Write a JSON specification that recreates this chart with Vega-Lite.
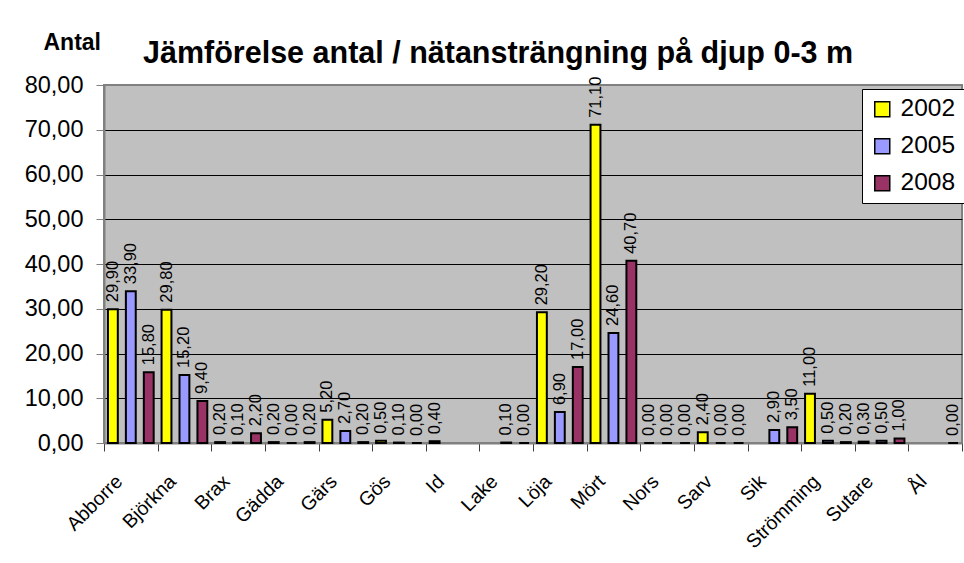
{
  "$schema": "https://vega.github.io/schema/vega-lite/v6.json",
  "width": 858,
  "height": 358,
  "autosize": {"type": "none"},
  "padding": {"left": 104, "top": 85, "right": 2, "bottom": 120},
  "background": "white",
  "title": {
    "text": "Jämförelse antal / nätansträngning på djup 0-3 m",
    "anchor": "start",
    "frame": "group",
    "dx": 39,
    "offset": -62,
    "baseline": "alphabetic",
    "fontSize": 30.5,
    "fontWeight": "bold",
    "font": "Liberation Sans",
    "color": "black"
  },
  "data": {
    "values": [
      {"art": "Abborre", "ar": "2002", "antal": 29.9},
      {"art": "Abborre", "ar": "2005", "antal": 33.9},
      {"art": "Abborre", "ar": "2008", "antal": 15.8},
      {"art": "Björkna", "ar": "2002", "antal": 29.8},
      {"art": "Björkna", "ar": "2005", "antal": 15.2},
      {"art": "Björkna", "ar": "2008", "antal": 9.4},
      {"art": "Brax", "ar": "2002", "antal": 0.2},
      {"art": "Brax", "ar": "2005", "antal": 0.1},
      {"art": "Brax", "ar": "2008", "antal": 2.2},
      {"art": "Gädda", "ar": "2002", "antal": 0.2},
      {"art": "Gädda", "ar": "2005", "antal": 0.0},
      {"art": "Gädda", "ar": "2008", "antal": 0.2},
      {"art": "Gärs", "ar": "2002", "antal": 5.2},
      {"art": "Gärs", "ar": "2005", "antal": 2.7},
      {"art": "Gärs", "ar": "2008", "antal": 0.2},
      {"art": "Gös", "ar": "2002", "antal": 0.5},
      {"art": "Gös", "ar": "2005", "antal": 0.1},
      {"art": "Gös", "ar": "2008", "antal": 0.0},
      {"art": "Id", "ar": "2002", "antal": 0.4},
      {"art": "Lake", "ar": "2005", "antal": 0.1},
      {"art": "Lake", "ar": "2008", "antal": 0.0},
      {"art": "Löja", "ar": "2002", "antal": 29.2},
      {"art": "Löja", "ar": "2005", "antal": 6.9},
      {"art": "Löja", "ar": "2008", "antal": 17.0},
      {"art": "Mört", "ar": "2002", "antal": 71.1},
      {"art": "Mört", "ar": "2005", "antal": 24.6},
      {"art": "Mört", "ar": "2008", "antal": 40.7},
      {"art": "Nors", "ar": "2002", "antal": 0.0},
      {"art": "Nors", "ar": "2005", "antal": 0.0},
      {"art": "Nors", "ar": "2008", "antal": 0.0},
      {"art": "Sarv", "ar": "2002", "antal": 2.4},
      {"art": "Sarv", "ar": "2005", "antal": 0.0},
      {"art": "Sarv", "ar": "2008", "antal": 0.0},
      {"art": "Sik", "ar": "2005", "antal": 2.9},
      {"art": "Sik", "ar": "2008", "antal": 3.5},
      {"art": "Strömming", "ar": "2002", "antal": 11.0},
      {"art": "Strömming", "ar": "2005", "antal": 0.5},
      {"art": "Strömming", "ar": "2008", "antal": 0.2},
      {"art": "Sutare", "ar": "2002", "antal": 0.3},
      {"art": "Sutare", "ar": "2005", "antal": 0.5},
      {"art": "Sutare", "ar": "2008", "antal": 1.0},
      {"art": "Ål", "ar": "2008", "antal": 0.0}
    ]
  },
  "encoding": {
    "x": {
      "field": "art",
      "type": "nominal",
      "sort": ["Abborre", "Björkna", "Brax", "Gädda", "Gärs", "Gös", "Id", "Lake", "Löja", "Mört", "Nors", "Sarv", "Sik", "Strömming", "Sutare", "Ål"],
      "scale": {"paddingInner": 0, "paddingOuter": 0},
      "axis": {
        "title": null,
        "labelAngle": -45,
        "labelAlign": "right",
        "labelBaseline": "middle",
        "labelFontSize": 19.5,
        "labelFont": "Liberation Sans",
        "labelColor": "black",
        "labelPadding": 27,
        "labelOffset": -12,
        "labelOverlap": false,
        "labelBound": false,
        "tickBand": "extent",
        "tickSize": 8,
        "tickColor": "#404040",
        "domainColor": "#808080",
        "domainWidth": 2,
        "grid": false
      }
    },
    "xOffset": {
      "field": "ar",
      "type": "nominal",
      "scale": {"paddingInner": 0.45, "paddingOuter": 0.22}
    },
    "y": {
      "field": "antal",
      "type": "quantitative",
      "scale": {"domain": [0, 80], "nice": false},
      "axis": {
        "title": "Antal",
        "values": [0, 10, 20, 30, 40, 50, 60, 70, 80],
        "format": ".2f",
        "labelFontSize": 23.5,
        "labelFont": "Liberation Sans",
        "labelColor": "black",
        "labelPadding": 13,
        "tickSize": 8,
        "tickColor": "#808080",
        "domainColor": "#808080",
        "domainWidth": 2,
        "grid": true,
        "gridColor": {"condition": {"test": "datum.value == 0 || datum.value == 80", "value": "#808080"}, "value": "black"},
        "gridWidth": 1,
        "titleAngle": 0,
        "titleAlign": "left",
        "titleBaseline": "alphabetic",
        "titleX": -61,
        "titleY": -36,
        "titleFontSize": 23,
        "titleFontWeight": "bold",
        "titleFont": "Liberation Sans",
        "titleColor": "black"
      }
    }
  },
  "layer": [
    {
      "mark": {"type": "bar", "stroke": "black", "strokeWidth": 2, "opacity": 1},
      "encoding": {
        "color": {
          "field": "ar",
          "type": "nominal",
          "scale": {"domain": ["2002", "2005", "2008"], "range": ["#FFFF00", "#9999FF", "#993366"]},
          "legend": {
            "title": null,
            "orient": "none",
            "legendX": 758,
            "legendY": 4,
            "fillColor": "white",
            "strokeColor": "black",
            "padding": 8,
            "symbolType": "square",
            "symbolSize": 225,
            "symbolStrokeColor": "black",
            "symbolStrokeWidth": 1.5,
            "symbolOpacity": 1,
            "labelFontSize": 24.5,
            "labelFont": "Liberation Sans",
            "labelColor": "black",
            "labelOffset": 6,
            "rowPadding": 12
          }
        }
      }
    },
    {
      "mark": {"type": "text", "angle": 270, "align": "left", "baseline": "middle", "dx": 7, "fontSize": 16.5, "font": "Liberation Sans", "color": "black"},
      "encoding": {
        "text": {"field": "antal", "type": "quantitative", "format": ".2f"}
      }
    }
  ],
  "config": {
    "locale": {"number": {"decimal": ",", "thousands": " ", "grouping": [3], "currency": ["", " kr"]}},
    "view": {"fill": "#C0C0C0", "stroke": "#808080", "strokeWidth": 2}
  }
}
